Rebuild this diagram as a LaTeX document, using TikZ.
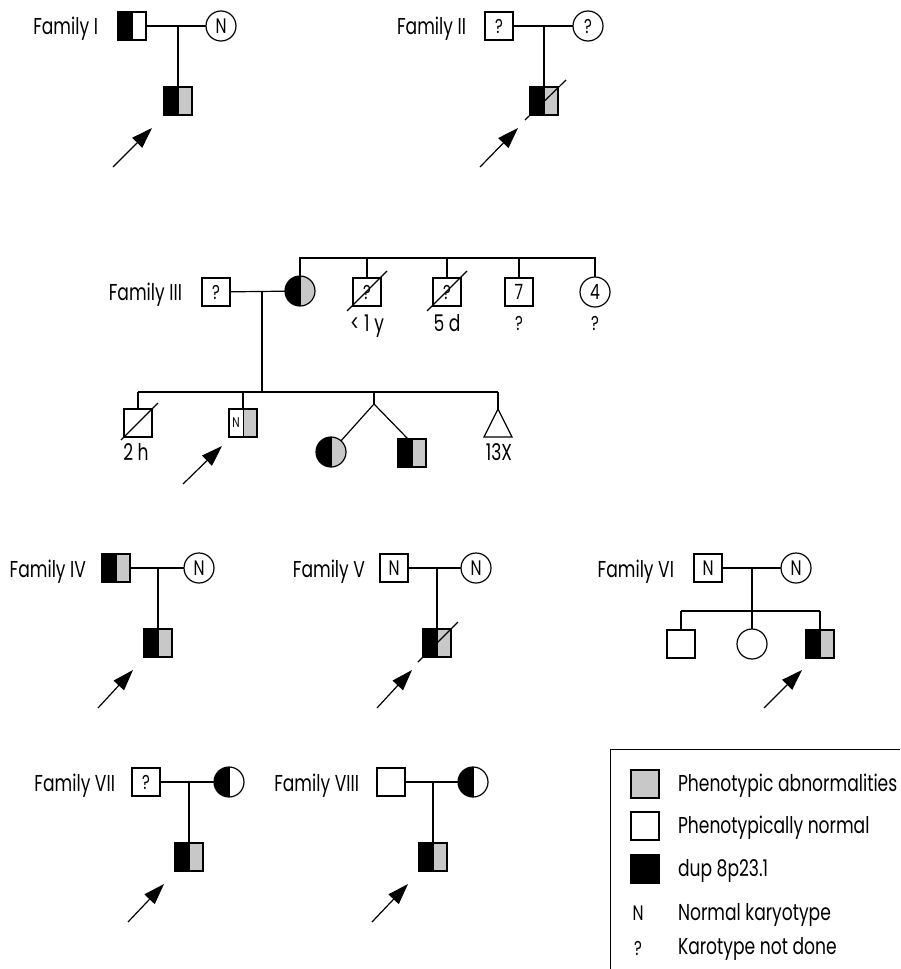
\documentclass[tikz,border=0pt]{standalone}
\usepackage{fontspec}
\setmainfont{Poppins}[FakeStretch=0.745]
\usetikzlibrary{arrows.meta,calc}
\definecolor{abn}{RGB}{200,200,200}
\newcommand\labfont{\fontsize{23}{27}\selectfont}
\newcommand\inpfont{\fontsize{21}{24}\selectfont}
\newcommand\qmfont{\fontsize{20}{23}\selectfont}
\newcommand\smfont{\fontsize{14}{16}\selectfont}
\begin{document}
\begin{tikzpicture}[x=1pt,y=-1pt,
  every node/.style={inner sep=0pt,outer sep=0pt},
  ln/.style={line width=1.2pt},
  arr/.style={line width=1.2pt,-{Triangle[length=21pt,width=14pt]}},
  sq/.style={draw,line width=1.2pt,minimum size=28pt,fill=white,font=\inpfont},
  ci/.style={draw,circle,line width=1.2pt,minimum size=30pt,fill=white,font=\inpfont},
  qm/.style={font=\qmfont},
  lab/.style={font=\labfont,anchor=base east},
  txt/.style={font=\labfont,anchor=base},
  leg/.style={font=\labfont,anchor=base west},
  bg/.style={path picture={
      \fill[black] (path picture bounding box.south west) rectangle (path picture bounding box.north);
      \fill[abn] (path picture bounding box.south) rectangle (path picture bounding box.north east);
      \draw[line width=0.8pt] (path picture bounding box.south) -- (path picture bounding box.north);}},
  bw/.style={path picture={
      \fill[black] (path picture bounding box.south west) rectangle (path picture bounding box.north);
      \draw[line width=0.8pt] (path picture bounding box.south) -- (path picture bounding box.north);}},
  wg/.style={path picture={
      \fill[abn] (path picture bounding box.south) rectangle (path picture bounding box.north east);
      \draw[line width=0.8pt] (path picture bounding box.south) -- (path picture bounding box.north);}},
]
\useasboundingbox (0,0) rectangle (900,969);

% ---------- Family I ----------
\node[lab] at (98,34) {Family I};
\node[sq,bw] (f1) at (132,26) {};
\node[ci] (m1) at (221,26) {N};
\coordinate (d1) at (178,26);
\draw[ln] (f1) -- (m1);
\node[sq,bg] (c1) at (178,101) {};
\draw[ln] (d1) -- (c1);
\coordinate (a1t) at (113,167); \coordinate (a1h) at (152,128);
\draw[arr] (a1t) -- (a1h);

% ---------- Family II ----------
\node[lab] at (466,34) {Family II};
\node[sq,qm] (f2) at (499,26) {?};
\node[ci,qm] (m2) at (588,26) {?};
\coordinate (d2) at (544,26);
\draw[ln] (f2) -- (m2);
\node[sq,bg] (c2) at (544,101) {};
\draw[ln] (d2) -- (c2);
\draw[ln] ($(c2.south west)+(-5,5)$) -- ($(c2.north east)+(8,-7)$);
\coordinate (a2t) at (480,167); \coordinate (a2h) at (518,128);
\draw[arr] (a2t) -- (a2h);

% ---------- Family III ----------
\node[lab] at (182,300) {Family III};
\node[sq,qm] (f3) at (216,292) {?};
\node[ci,bg] (m3) at (300,291) {};
\coordinate (d3) at (262,291);
\draw[ln] (f3) -- (m3);
\coordinate (t3) at (595,258);
\node[sq,qm] (s31) at (367,292) {?};
\node[sq,qm] (s32) at (447,292) {?};
\node[sq] (s33) at (519,292) {7};
\node[ci] (s34) at (595,292) {4};
\draw[ln] (m3.north) |- (t3) -- (s34);
\draw[ln] (s31.north |- t3) -- (s31);
\draw[ln] (s32.north |- t3) -- (s32);
\draw[ln] (s33.north |- t3) -- (s33);
\draw[ln] ($(s31.south west)+(-6,5)$) -- ($(s31.north east)+(6,-7)$);
\draw[ln] ($(s32.south west)+(-6,5)$) -- ($(s32.north east)+(6,-7)$);
\node[txt] (l31) at (367,331) {< 1 y};
\node[txt] (l32) at (447,331) {5 d};
\node[txt,font=\qmfont] (l33) at (519,330) {?};
\node[txt,font=\qmfont] (l34) at (595,330) {?};

\coordinate (g3) at (262,392);
\draw[ln] (d3) -- (g3);
\node[sq] (k1) at (138,423) {};
\node[sq,wg] (k2) at (243,423) {};
\node[font=\smfont] (k2n) at ($(k2.center)+(-7,0)$) {N};
\coordinate (tw) at (374,404);
\node[ci,bg] (k3) at (331,452) {};
\node[sq,bg] (k4) at (412,453) {};
\coordinate (tri) at (498,409);
\draw[ln] (k1.north |- g3) -- (tri |- g3);
\draw[ln] (k1.north |- g3) -- (k1);
\draw[ln] (k2.north |- g3) -- (k2);
\draw[ln] (tw |- g3) -- (tw);
\draw[ln] (tw) -- (k3);
\draw[ln] (tw) -- ($(k4.north)+(-4,0)$);
\draw[ln] (tri |- g3) -- (tri);
\draw[ln,line join=miter] (tri) -- ++(14,28) -- ++(-28,0) -- cycle;
\draw[ln] ($(k1.south west)+(-3,3)$) -- ($(k1.north east)+(6,-6)$);
\node[txt] (l41) at (136,460) {2 h};
\node[txt] (l44) at (499,460) {13X};
\coordinate (a3t) at (183,484); \coordinate (a3h) at (222,446);
\draw[arr] (a3t) -- (a3h);

% ---------- Family IV ----------
\node[lab] at (86,577) {Family IV};
\node[sq,bg] (f4) at (116,568) {};
\node[ci] (m4) at (199,568) {N};
\coordinate (d4) at (158,568);
\draw[ln] (f4) -- (m4);
\node[sq,bg] (c4) at (158,643) {};
\draw[ln] (d4) -- (c4);
\coordinate (a4t) at (98,708); \coordinate (a4h) at (133,670);
\draw[arr] (a4t) -- (a4h);

% ---------- Family V ----------
\node[lab] at (365,577) {Family V};
\node[sq] (f5) at (394,568) {N};
\node[ci] (m5) at (476,568) {N};
\coordinate (d5) at (437,568);
\draw[ln] (f5) -- (m5);
\node[sq,bg] (c5) at (437,643) {};
\draw[ln] (d5) -- (c5);
\draw[ln] ($(c5.south west)+(-5,5)$) -- ($(c5.north east)+(7,-7)$);
\coordinate (a5t) at (377,708); \coordinate (a5h) at (412,670);
\draw[arr] (a5t) -- (a5h);

% ---------- Family VI ----------
\node[lab] at (674,577) {Family VI};
\node[sq] (f6) at (708,568) {N};
\node[ci] (m6) at (796,568) {N};
\coordinate (d6) at (752,568);
\coordinate (g6) at (752,611);
\draw[ln] (f6) -- (m6);
\draw[ln] (d6) -- (g6);
\node[sq] (c61) at (681,644) {};
\node[ci] (c62) at (752,644) {};
\node[sq,bg] (c63) at (820,644) {};
\draw[ln] (c61.north |- g6) -- (c63.north |- g6);
\draw[ln] (c61.north |- g6) -- (c61);
\draw[ln] (g6) -- (c62);
\draw[ln] (c63.north |- g6) -- (c63);
\coordinate (a6t) at (764,708); \coordinate (a6h) at (802,670);
\draw[arr] (a6t) -- (a6h);

% ---------- Family VII ----------
\node[lab] at (115,791) {Family VII};
\node[sq,qm] (f7) at (146,782) {?};
\node[ci,bw] (m7) at (229,782) {};
\coordinate (d7) at (189,782);
\draw[ln] (f7) -- (m7);
\node[sq,bg] (c7) at (189,857) {};
\draw[ln] (d7) -- (c7);
\coordinate (a7t) at (128,922); \coordinate (a7h) at (164,884);
\draw[arr] (a7t) -- (a7h);

% ---------- Family VIII ----------
\node[lab] at (359,791) {Family VIII};
\node[sq] (f8) at (391,782) {};
\node[ci,bw] (m8) at (473,782) {};
\coordinate (d8) at (433,782);
\draw[ln] (f8) -- (m8);
\node[sq,bg] (c8) at (433,857) {};
\draw[ln] (d8) -- (c8);
\coordinate (a8t) at (372,922); \coordinate (a8h) at (408,884);
\draw[arr] (a8t) -- (a8h);

% ---------- Legend ----------
\coordinate (lbl) at (610,969);
\coordinate (lbtl) at (610,749);
\coordinate (lbtr) at (900,749);
\draw[line width=1pt] (lbl) -- (lbtl) -- (lbtr);
\node[sq,fill=abn] (lg1) at (645,784) {};
\node[sq] (lg2) at (645,826) {};
\node[sq,fill=black] (lg3) at (645,869) {};
\node[leg] (lt1) at (678,791) {Phenotypic abnormalities};
\node[leg] (lt2) at (678,833) {Phenotypically normal};
\node[leg] (lt3) at (678,876) {dup 8p23.1};
\node[font=\inpfont] (lg4) at (638,913) {N};
\node[leg] (lt4) at (678,920) {Normal karyotype};
\node[font=\qmfont] (lg5) at (638,948) {?};
\node[leg] (lt5) at (678,954) {Karotype not done};
\end{tikzpicture}
\end{document}
